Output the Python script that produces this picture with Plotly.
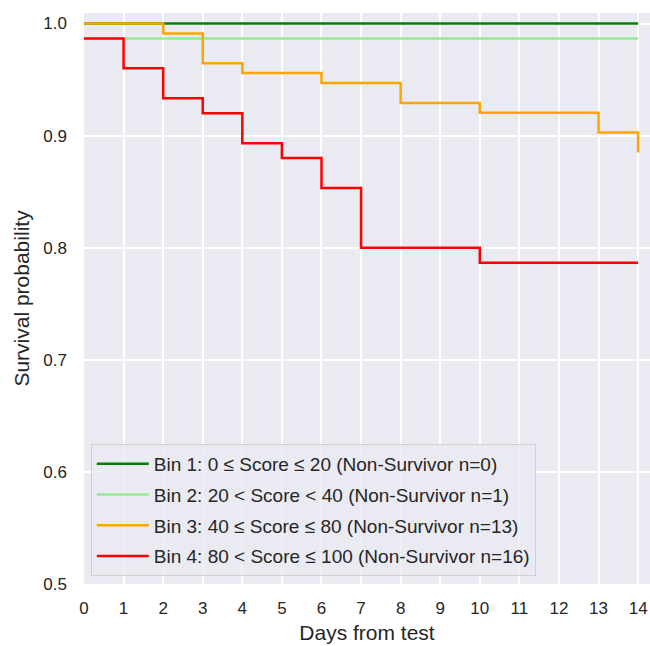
import plotly.graph_objects as go

days = list(range(0, 15))

names = [
    "Bin 1: 0 ≤ Score ≤ 20 (Non-Survivor n=0)",
    "Bin 2: 20 < Score < 40 (Non-Survivor n=1)",
    "Bin 3: 40 ≤ Score ≤ 80 (Non-Survivor n=13)",
    "Bin 4: 80 < Score ≤ 100 (Non-Survivor n=16)",
]
colors = ["green", "lightgreen", "orange", "red"]

bin1_t = [0, 14]
bin1_s = [1.0, 1.0]

bin2_t = [0, 14]
bin2_s = [0.9867, 0.9867]

bin3_t = [0, 2, 3, 4, 6, 8, 10, 13, 14]
bin3_s = [1.0, 0.9912, 0.9646, 0.9558, 0.9469, 0.9292, 0.9204, 0.9027, 0.8850]

bin4_t = [0, 1, 2, 3, 4, 5, 6, 7, 10, 14]
bin4_s = [0.9867, 0.9600, 0.9333, 0.9200, 0.8933, 0.8800, 0.8533, 0.8000, 0.7867, 0.7867]

y_ticks = [0.5, 0.6, 0.7, 0.8, 0.9, 1.0]
y_labels = ["0.5", "0.6", "0.7", "0.8", "0.9", "1.0"]

series = [(bin1_t, bin1_s), (bin2_t, bin2_s), (bin3_t, bin3_s), (bin4_t, bin4_s)]

fig = go.Figure()
for i, ((t, s), name, c) in enumerate(zip(series, names, colors)):
    fig.add_trace(go.Scatter(x=t, y=s, mode="lines", name=name, legendgroup=f"g{i}",
                             line=dict(color=c, width=2.5, shape="hv")))

font = "Liberation Sans, Arial, sans-serif"
fig.update_layout(
    width=650, height=646,
    margin=dict(l=84, r=0, t=13, b=62, autoexpand=False),
    paper_bgcolor="white", plot_bgcolor="#EAEAF2",
    font=dict(family=font, size=17, color="#262626"),
    showlegend=True,
    legend=dict(x=0.012, y=0.014, xanchor="left", yanchor="bottom",
                bgcolor="rgba(234,234,242,0.8)", bordercolor="#D0D0D0", borderwidth=1,
                font=dict(size=19, color="#262626"), traceorder="grouped",
                tracegroupgap=3, itemwidth=52),
    xaxis=dict(range=[0, 14.3], tickvals=days, showgrid=True, automargin=False,
               gridcolor="white", gridwidth=1.5, zeroline=False, ticks="",
               ticklabelstandoff=12, showline=False,
               title=dict(text="Days from test", font=dict(size=21), standoff=8)),
    yaxis=dict(range=[0.5, 1.0094], tickvals=y_ticks, ticktext=y_labels,
               showgrid=True, automargin=False,
               gridcolor="white", gridwidth=1.5, zeroline=False, ticks="",
               ticklabelstandoff=16, showline=False,
               title=dict(text="Survival probability", font=dict(size=21), standoff=8)),
)
fig.write_html(
    "out.html",
    config={"displayModeBar": False},
    post_script="document.body.style.margin='0';document.body.style.overflow='hidden';",
)
